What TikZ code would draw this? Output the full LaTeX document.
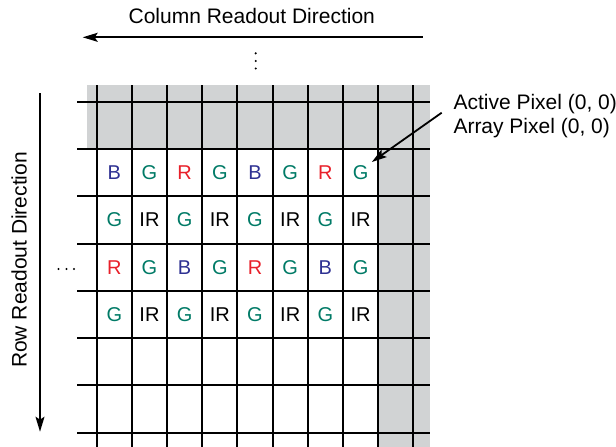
\documentclass[tikz,border=0pt]{standalone}
\usepackage{fontspec}
\setmainfont{Liberation Sans}
\usepackage{xcolor}
\usepackage{tikz}
\usetikzlibrary{arrows.meta, positioning}
\definecolor{pixblue}{RGB}{46,49,146}
\definecolor{pixgreen}{RGB}{0,122,102}
\definecolor{pixred}{RGB}{232,32,42}
\definecolor{pixgray}{RGB}{209,211,212}
\tikzstyle{arrow} = [line width=1.8pt, -{Stealth[length=15pt,width=9pt,inset=3pt]}]
\tikzstyle{gridline} = [line width=2pt]

\begin{document}
\begin{tikzpicture}[x=1pt, y=-1pt, px/.style={font=\fontsize{20}{20}\selectfont}, lbl/.style={font=\fontsize{21}{24}\selectfont, inner sep=0pt}]
    \useasboundingbox (0,0) rectangle (616,447);
    % dark (inactive) border
    \fill[pixgray] (87.3,85) rectangle (430,149);
    \fill[pixgray] (377.3,149) rectangle (430,447);
    % pixel grid
    \foreach \i in {0,...,9}
        \draw[gridline] ({96.7+35.18*\i},85) -- ({96.7+35.18*\i},447);
    \foreach \j in {0,...,7}
        \draw[gridline] (77,{101.7+47.29*\j}) -- (430,{101.7+47.29*\j});
    % active pixels
    \foreach \txt/\clr [count=\i from 0] in {B/pixblue,G/pixgreen,R/pixred,G/pixgreen,B/pixblue,G/pixgreen,R/pixred,G/pixgreen}
        \node[px, text=\clr] (p\i0) at ({96.7+35.18*(\i+0.5)},172.6) {\txt};
    \foreach \txt/\clr [count=\i from 0] in {G/pixgreen,IR/black,G/pixgreen,IR/black,G/pixgreen,IR/black,G/pixgreen,IR/black}
        \node[px, text=\clr] (p\i1) at ({96.7+35.18*(\i+0.5)},219.9) {\txt};
    \foreach \txt/\clr [count=\i from 0] in {R/pixred,G/pixgreen,B/pixblue,G/pixgreen,R/pixred,G/pixgreen,B/pixblue,G/pixgreen}
        \node[px, text=\clr] (p\i2) at ({96.7+35.18*(\i+0.5)},267.2) {\txt};
    \foreach \txt/\clr [count=\i from 0] in {G/pixgreen,IR/black,G/pixgreen,IR/black,G/pixgreen,IR/black,G/pixgreen,IR/black}
        \node[px, text=\clr] (p\i3) at ({96.7+35.18*(\i+0.5)},314.5) {\txt};
    % continuation dots
    \foreach \y in {53.3,61,68.5}
        \fill (255.7,\y) circle (1.2pt);
    \foreach \x in {58.5,66.5,74}
        \fill (\x,269) circle (1.2pt);
    % readout directions
    \node[lbl, anchor=base] (coltxt) at (251.8,23.3) {Column Readout Direction};
    \coordinate (colstart) at (422.7,37.3);
    \coordinate (colend) at (82.7,37.3);
    \draw[arrow] (colstart) -- (colend);
    \node[lbl, anchor=base, rotate=90] (rowtxt) at (26.7,260) {Row Readout Direction};
    \coordinate (rowstart) at (40,93.3);
    \coordinate (rowend) at (40,431.7);
    \draw[arrow] (rowstart) -- (rowend);
    % pixel (0,0) callout
    \node[lbl, anchor=base west] (actpix) at (453.3,109.3) {Active Pixel (0, 0)};
    \node[lbl, anchor=base west] (arrpix) at (453.3,133.3) {Array Pixel (0, 0)};
    \coordinate (lead) at (441.7,112.7);
    \draw[arrow] (lead) -- (p70.north east);
\end{tikzpicture}
\end{document}
